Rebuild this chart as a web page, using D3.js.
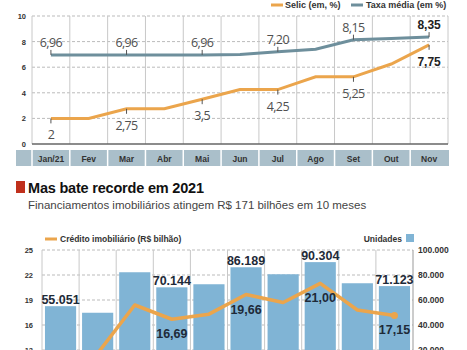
<!DOCTYPE html>
<html>
<head>
<meta charset="utf-8">
<script src="https://cdn.jsdelivr.net/npm/d3@7"></script>
<style>
  body { margin: 0; background: #fff; }
  svg { display: block; font-family: "Liberation Sans", Arial, sans-serif; }
</style>
</head>
<body>
<div id="viz"></div>
<script>
const width = 467;
const height = 350;

// Top chart data
const months = ['Jan/21', 'Fev', 'Mar', 'Abr', 'Mai', 'Jun', 'Jul', 'Ago', 'Set', 'Out', 'Nov'];
const selic = [2, 2, 2.75, 2.75, 3.5, 4.25, 4.25, 5.25, 5.25, 6.25, 7.75];
const taxaMedia = [6.96, 6.96, 6.96, 6.96, 6.96, 7.0, 7.2, 7.4, 8.15, 8.25, 8.35];
const selicLabels = {'Jan/21': '2', 'Mar': '2,75', 'Mai': '3,5', 'Jul': '4,25', 'Set': '5,25', 'Nov': '7,75'};
const taxaLabels = {'Jan/21': '6,96', 'Mar': '6,96', 'Mai': '6,96', 'Jul': '7,20', 'Set': '8,15', 'Nov': '8,35'};
const topTicks = [0, 2, 4, 6, 8, 10];

// Bottom chart data
const months2 = ['Jan', 'Fev', 'Mar', 'Abr', 'Mai', 'Jun', 'Jul', 'Ago', 'Set', 'Out'];
const unidades = [55051, 49800, 82200, 70144, 72600, 86189, 80600, 90304, 73400, 71123];
const credito = [11.0, 12.6, 18.4, 16.69, 17.3, 19.66, 18.7, 21.0, 17.8, 17.15];
const unidadesLabels = {'Jan': '55.051', 'Abr': '70.144', 'Jun': '86.189', 'Ago': '90.304', 'Out': '71.123'};
const creditoLabels = {'Abr': '16,69', 'Jun': '19,66', 'Ago': '21,00', 'Out': '17,15'};
const leftTicks = [13, 16, 19, 22, 25];
const rightTicks = [20000, 40000, 60000, 80000, 100000];

const colorSelic = '#eba54c';
const colorTaxa = '#6e8f9c';
const colorBar = '#80b4d5';
const colorGrid = '#c8c8c8';
const colorLabel = '#1e2a38';

const br = d3.formatLocale({decimal: ',', thousands: '.', grouping: [3], currency: ['R$', '']});

const svg = d3.select('#viz')
  .append('svg')
    .attr('width', width)
    .attr('height', height)
    .attr('viewBox', [0, 0, width, height]);

// ---------- top chart ----------
const x = d3.scaleBand().domain(months).range([32, 448]);
const y = d3.scaleLinear().domain([0, 10]).range([144, 16]);
const cx = d => x(d) + x.bandwidth() / 2;

// legend
const legTop = svg.append('g').attr('font-size', 9).attr('font-weight', 'bold').attr('fill', '#333');
legTop.append('line').attr('x1', 271).attr('x2', 283).attr('y1', 5).attr('y2', 5)
  .attr('stroke', colorSelic).attr('stroke-width', 3);
legTop.append('text').attr('x', 285).attr('y', 8).text('Selic (em, %)');
legTop.append('line').attr('x1', 351).attr('x2', 363).attr('y1', 5).attr('y2', 5)
  .attr('stroke', colorTaxa).attr('stroke-width', 3);
legTop.append('text').attr('x', 366).attr('y', 8).text('Taxa média (em %)');

// grid
const gTop = svg.append('g');
gTop.selectAll('.hgrid').data(topTicks.slice(1)).join('line')
  .attr('x1', 32).attr('x2', 448)
  .attr('y1', d => y(d)).attr('y2', d => y(d))
  .attr('stroke', '#bbb').attr('stroke-dasharray', '3,2');
gTop.selectAll('.vgrid').data(months.map(m => x(m)).concat([x.range()[1]])).join('line')
  .attr('x1', d => d).attr('x2', d => d)
  .attr('y1', y(10)).attr('y2', y(0))
  .attr('stroke', colorGrid);
gTop.append('line').attr('x1', 32).attr('x2', 448).attr('y1', y(0)).attr('y2', y(0))
  .attr('stroke', '#666').attr('stroke-width', 1.5);

// y axis labels
svg.append('g')
  .attr('transform', 'translate(32,0)')
  .call(d3.axisLeft(y).tickValues(topTicks).tickSize(0).tickPadding(6))
  .call(g => g.select('.domain').remove())
  .call(g => g.selectAll('text').attr('font-size', 7.5).attr('font-weight', 'bold').attr('fill', '#333')
    .attr('font-family', '"Liberation Sans", Arial, sans-serif'));

// month band
svg.append('rect').attr('x', 16).attr('y', 150).attr('width', 433).attr('height', 16).attr('fill', '#aabfca');
svg.append('g').selectAll('line').data(months.map(m => x(m))).join('line')
  .attr('x1', d => d).attr('x2', d => d).attr('y1', 150).attr('y2', 166)
  .attr('stroke', '#fff').attr('stroke-width', 1.5);
svg.append('g').selectAll('text').data(months).join('text')
  .attr('x', d => cx(d)).attr('y', 161.5)
  .attr('text-anchor', 'middle').attr('font-size', 8.5).attr('font-weight', 'bold').attr('fill', '#333')
  .text(d => d);

// lines
const lineGen = vals => d3.line().x((d, i) => cx(months[i])).y(d => y(d))(vals);
svg.append('path').attr('d', lineGen(taxaMedia)).attr('fill', 'none')
  .attr('stroke', colorTaxa).attr('stroke-width', 3);
svg.append('path').attr('d', lineGen(selic)).attr('fill', 'none')
  .attr('stroke', colorSelic).attr('stroke-width', 3);

// value labels + ticks
const styleLabel = (sel, bold) => sel
  .attr('text-anchor', 'middle').attr('font-size', bold ? 12 : 12.5)
  .attr('font-family', bold ? '"Liberation Sans", Arial' : '"Open Sans", sans-serif')
  .attr('font-weight', bold ? 'bold' : 'normal').attr('fill', bold ? '#222' : '#505050')
  .attr('letter-spacing', bold ? 0 : -0.6);

months.forEach((m, i) => {
  const bold = m === 'Nov';
  if (taxaLabels[m]) {
    svg.append('line').attr('x1', cx(m)).attr('x2', cx(m))
      .attr('y1', y(taxaMedia[i]) - 5).attr('y2', y(taxaMedia[i])).attr('stroke', '#555');
    svg.append('text').attr('x', cx(m)).attr('y', y(taxaMedia[i]) - 8)
      .call(styleLabel, bold).text(taxaLabels[m]);
  }
  if (selicLabels[m]) {
    svg.append('line').attr('x1', cx(m)).attr('x2', cx(m))
      .attr('y1', y(selic[i])).attr('y2', y(selic[i]) + 5).attr('stroke', '#555');
    svg.append('text').attr('x', cx(m)).attr('y', y(selic[i]) + 21)
      .call(styleLabel, bold).text(selicLabels[m]);
  }
});

// ---------- heading ----------
svg.append('rect').attr('x', 16).attr('y', 181).attr('width', 9).attr('height', 12).attr('fill', '#c0301c');
svg.append('text').attr('x', 28).attr('y', 193)
  .attr('font-size', 14.5).attr('font-weight', 'bold').attr('fill', '#111')
  .attr('letter-spacing', -0.2)
  .text('Mas bate recorde em 2021');
svg.append('text').attr('x', 28).attr('y', 209)
  .attr('font-size', 11.5).attr('fill', '#444')
  .text('Financiamentos imobiliários atingem R$ 171 bilhões em 10 meses');

// ---------- bottom chart ----------
const x2 = d3.scaleBand().domain(months2).range([42, 413]).paddingInner(0.16).paddingOuter(0.08);
const step2 = x2.step();
const colLeft = m => x2(m) - (step2 - x2.bandwidth()) / 2;
const cx2 = m => x2(m) + x2.bandwidth() / 2;
const yL = d3.scaleLinear().domain([13, 25]).range([350, 250]);
const yR = d3.scaleLinear().domain([20000, 100000]).range([350, 250]);

// legend
const legBot = svg.append('g').attr('font-size', 8.5).attr('font-weight', 'bold').attr('fill', '#333');
legBot.append('line').attr('x1', 45).attr('x2', 57).attr('y1', 239).attr('y2', 239)
  .attr('stroke', colorSelic).attr('stroke-width', 3);
legBot.append('text').attr('x', 60).attr('y', 241.5).text('Crédito imobiliário (R$ bilhão)');
legBot.append('text').attr('x', 402).attr('y', 241.5).attr('text-anchor', 'end').text('Unidades');
legBot.append('rect').attr('x', 406).attr('y', 234).attr('width', 8).attr('height', 8).attr('fill', colorBar);

// grid
svg.append('g').selectAll('line').data(leftTicks).join('line')
  .attr('x1', 42).attr('x2', 413)
  .attr('y1', d => yL(d)).attr('y2', d => yL(d))
  .attr('stroke', '#bbb').attr('stroke-dasharray', '3,2');
svg.append('g').selectAll('line').data(months2.map(colLeft).concat([413])).join('line')
  .attr('x1', d => d).attr('x2', d => d)
  .attr('y1', yL(25)).attr('y2', height)
  .attr('stroke', (d, i) => i === months2.length ? '#999' : colorGrid);

// bars
svg.append('g').selectAll('rect').data(unidades).join('rect')
  .attr('x', (d, i) => x2(months2[i]))
  .attr('width', x2.bandwidth())
  .attr('y', d => yR(d))
  .attr('height', d => height + 10 - yR(d))
  .attr('fill', colorBar);

// axes
svg.append('g')
  .attr('transform', 'translate(42,0)')
  .call(d3.axisLeft(yL).tickValues(leftTicks).tickSize(0).tickPadding(9))
  .call(g => g.select('.domain').remove())
  .call(g => g.selectAll('text').attr('font-size', 7.5).attr('font-weight', 'bold').attr('fill', '#333')
    .attr('font-family', '"Liberation Sans", Arial, sans-serif'));
svg.append('g')
  .attr('transform', 'translate(413,0)')
  .call(d3.axisRight(yR).tickValues(rightTicks).tickSize(0).tickPadding(5).tickFormat(br.format(',')))
  .call(g => g.select('.domain').remove())
  .call(g => g.selectAll('text').attr('font-size', 8.5).attr('font-weight', 'bold').attr('fill', '#333')
    .attr('font-family', '"Liberation Sans", Arial, sans-serif'));

// credit line
svg.append('path')
  .attr('d', d3.line().x((d, i) => cx2(months2[i])).y(d => yL(d))(credito))
  .attr('fill', 'none').attr('stroke', colorSelic).attr('stroke-width', 3.5)
  .attr('stroke-linejoin', 'round');
svg.append('circle').attr('cx', cx2('Out')).attr('cy', yL(credito[9])).attr('r', 3.5).attr('fill', colorSelic);

// labels
months2.forEach((m, i) => {
  if (unidadesLabels[m]) {
    svg.append('text').attr('x', cx2(m)).attr('y', yR(unidades[i]) - 2)
      .attr('text-anchor', 'middle').attr('font-size', 12.5).attr('font-weight', 'bold')
      .attr('fill', colorLabel).text(unidadesLabels[m]);
  }
  if (creditoLabels[m]) {
    svg.append('text').attr('x', cx2(m)).attr('y', yL(credito[i]) + 19)
      .attr('text-anchor', 'middle').attr('font-size', 12.5).attr('font-weight', 'bold')
      .attr('fill', colorLabel).text(creditoLabels[m]);
  }
});
</script>
</body>
</html>
